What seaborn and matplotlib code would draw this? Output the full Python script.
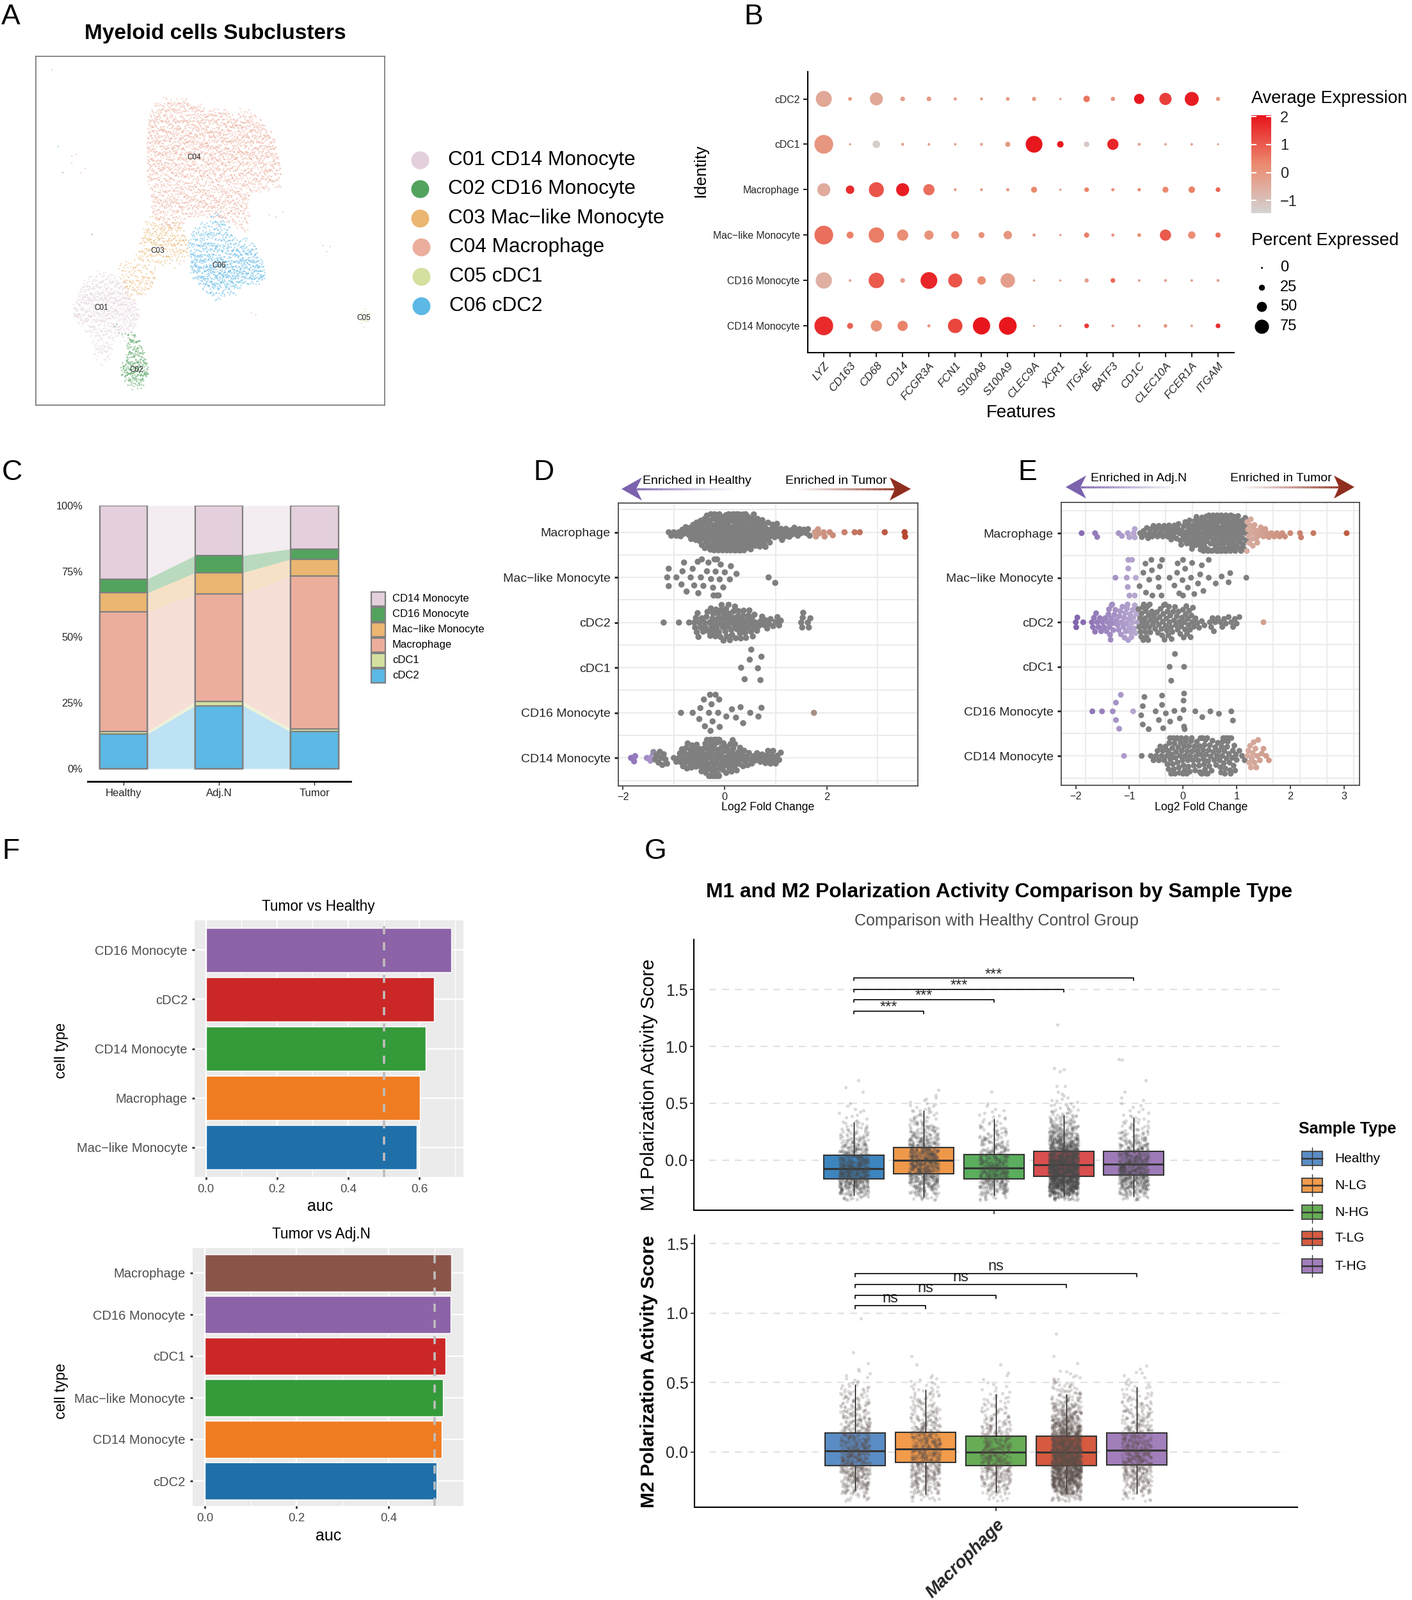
import numpy as np
import pandas as pd
import seaborn as sns
import matplotlib
matplotlib.use('Agg')
from matplotlib import pyplot as plt
from matplotlib.cm import ScalarMappable
from matplotlib.collections import LineCollection
from matplotlib.colors import LinearSegmentedColormap, Normalize, to_rgb
from matplotlib.lines import Line2D
from matplotlib.patches import Polygon, Rectangle

W, H = 2206, 2500

# ------------------------------
# A: UMAP clouds, read as rows (y, x start, x end, number of cells)
# ------------------------------
C01_SPANS = [(1020, 215, 250, 12), (1040, 195, 270, 35), (1060, 185, 280, 55), (1080, 180, 285, 65),
             (1100, 175, 290, 75), (1120, 170, 300, 85), (1140, 165, 305, 95), (1160, 165, 310, 95),
             (1180, 165, 310, 90), (1200, 175, 305, 75), (1220, 190, 300, 50), (1240, 200, 295, 35),
             (1260, 205, 285, 20), (1280, 210, 250, 20), (1300, 210, 250, 20), (1320, 215, 245, 12),
             (1340, 225, 240, 5)]
C02_SPANS = [(1220, 255, 260, 2), (1240, 265, 300, 6), (1260, 285, 305, 15), (1280, 285, 312, 20),
             (1300, 283, 318, 25), (1320, 282, 322, 30), (1340, 280, 325, 35), (1360, 272, 330, 50),
             (1380, 270, 330, 55), (1400, 278, 328, 45), (1420, 285, 320, 25), (1440, 295, 315, 6),
             (640, 140, 140, 1), (880, 205, 205, 1)]
C03_SPANS = [(820, 330, 365, 8), (840, 325, 400, 30), (860, 320, 410, 45), (880, 320, 415, 50),
             (900, 315, 415, 50), (920, 310, 420, 50), (940, 310, 420, 40), (960, 300, 410, 30),
             (980, 270, 400, 25), (1000, 265, 345, 25), (1020, 270, 345, 25), (1040, 275, 345, 30),
             (1060, 275, 340, 25), (1080, 280, 330, 18), (1100, 280, 315, 8), (600, 160, 160, 1)]
C04_SPANS = [(380, 365, 420, 25), (400, 345, 450, 60), (420, 335, 510, 100), (420, 535, 560, 10),
             (440, 332, 570, 130), (460, 332, 585, 150), (480, 330, 595, 160), (500, 330, 605, 165),
             (520, 330, 612, 170), (540, 328, 612, 170), (560, 328, 615, 170), (580, 328, 618, 170),
             (600, 328, 622, 165), (620, 328, 625, 160), (640, 330, 625, 150), (660, 330, 625, 145),
             (680, 330, 625, 130), (700, 335, 600, 110), (720, 338, 560, 105), (740, 338, 555, 110),
             (760, 338, 550, 115), (780, 340, 550, 100), (800, 340, 555, 90), (800, 600, 630, 3),
             (820, 345, 410, 25), (820, 480, 555, 25), (840, 360, 400, 12), (840, 520, 550, 8),
             (860, 540, 552, 3), (920, 720, 735, 3), (1160, 560, 570, 2), (260, 115, 115, 1),
             (640, 180, 190, 2), (580, 160, 170, 2)]
C05_SPANS = [(1160, 805, 815, 5), (1180, 798, 825, 12), (1200, 805, 820, 6)]
C06_SPANS = [(800, 480, 495, 6), (820, 470, 500, 15), (840, 445, 510, 25), (860, 430, 515, 35),
             (880, 425, 520, 45), (900, 420, 550, 60), (920, 420, 570, 75), (940, 425, 575, 90),
             (960, 425, 575, 100), (980, 425, 585, 120), (1000, 425, 590, 130), (1020, 430, 590, 125),
             (1040, 440, 585, 100), (1060, 450, 540, 60), (1080, 460, 525, 35), (1100, 470, 500, 10),
             (560, 130, 130, 1)]
A_CLUSTERS = ['C01', 'C02', 'C03', 'C04', 'C05', 'C06']
A_NAMES = ['C01 CD14 Monocyte', 'C02 CD16 Monocyte', 'C03 Mac\u2212like Monocyte',
           'C04 Macrophage', 'C05 cDC1', 'C06 cDC2']
A_COLORS = ['#E3D0DC', '#52A35E', '#EAB671', '#ECAE9C', '#D3E09F', '#5CB8E4']
A_LABEL_X = [226, 304, 351, 433, 811, 488]
A_LABEL_Y = [1143, 1375, 932, 586, 1181, 987]

# ------------------------------
# B: dot plot
# ------------------------------
B_GENES = ['LYZ', 'CD163', 'CD68', 'CD14', 'FCGR3A', 'FCN1', 'S100A8', 'S100A9',
           'CLEC9A', 'XCR1', 'ITGAE', 'BATF3', 'CD1C', 'CLEC10A', 'FCER1A', 'ITGAM']
B_IDENTITY = ['CD14 Monocyte', 'CD16 Monocyte', 'Mac\u2212like Monocyte', 'Macrophage', 'cDC1', 'cDC2']
B_PCT = [[103, 25, 57, 51, 8, 77, 94, 97, 2, 2, 17, 6, 6, 11, 4, 17],
         [88, 4, 83, 17, 91, 74, 40, 77, 2, 2, 14, 17, 4, 6, 4, 6],
         [103, 31, 83, 57, 45, 37, 25, 40, 8, 2, 20, 8, 11, 57, 34, 20],
         [68, 40, 80, 68, 57, 6, 6, 8, 25, 2, 17, 8, 8, 25, 28, 17],
         [103, 2, 34, 6, 4, 4, 6, 20, 91, 28, 22, 57, 6, 4, 4, 1],
         [86, 11, 68, 17, 17, 8, 6, 11, 14, 2, 28, 14, 51, 63, 74, 14]]
B_AVG = [[1.7, 0.9, 0.1, 0.4, -0.1, 1.3, 2.0, 2.0, -0.2, -0.2, 1.5, -0.2, -0.1, -0.1, -0.2, 1.7],
         [-0.6, -0.2, 1.0, -0.2, 1.8, 1.1, 0.2, -0.2, -0.2, -0.2, -0.2, 0.8, -0.2, -0.2, -0.2, -0.2],
         [0.7, 0.4, 0.5, 0.2, 0.1, 0.1, 0.1, 0.0, -0.1, -0.1, 0.5, 0.0, 0.2, 1.0, 0.2, 0.7],
         [-0.5, 1.7, 1.1, 1.9, 0.7, -0.1, -0.1, 0.0, 0.3, -0.1, 0.4, 0.1, 0.4, 0.3, 0.4, 0.8],
         [0.0, -0.2, -1.3, -0.2, -0.2, -0.2, -0.2, -0.1, 2.0, 2.0, -1.2, 1.8, -0.2, -0.2, -0.2, -0.2],
         [-0.4, 0.0, -0.4, -0.2, -0.1, -0.2, -0.1, -0.1, -0.1, -0.1, 0.6, 0.1, 2.0, 1.4, 1.9, -0.1]]
B_LEGEND_PCT = [0, 25, 50, 75]

# ------------------------------
# C: stacked composition, upper edge of each layer in percent
# ------------------------------
C_SAMPLES = ['Healthy', 'Adj.N', 'Tumor']
C_LAYERS = ['CD14 Monocyte', 'CD16 Monocyte', 'Mac\u2212like Monocyte', 'Macrophage', 'cDC1', 'cDC2']
C_TOPS = [[100, 100, 100],
          [72.1, 81.0, 83.5],
          [66.8, 74.5, 79.6],
          [59.7, 66.4, 73.2],
          [14.0, 25.5, 15.1],
          [13.1, 23.9, 14.0]]

# ------------------------------
# D, E: fold change swarms, single values plus (bin centre, count) for crowded parts
# ------------------------------
ROWS = ['Macrophage', 'Mac\u2212like Monocyte', 'cDC2', 'cDC1', 'CD16 Monocyte', 'CD14 Monocyte']

D_MAC_SINGLE = [1.77, 1.79, 1.83, 1.85, 1.94, 1.96, 2.06, 2.12, 2.35, 2.55, 2.65, 3.14, 3.53, 3.54]
D_MAC_BINS = [-1.05, -0.95, -0.85, -0.75, -0.65, -0.55, -0.45, -0.35, -0.25, -0.15, -0.05, 0.05, 0.15, 0.25,
              0.35, 0.45, 0.55, 0.65, 0.75, 0.85, 0.95, 1.05, 1.15, 1.25, 1.35, 1.45, 1.55, 1.65]
D_MAC_N = [2, 2, 3, 3, 5, 6, 8, 10, 11, 12, 12, 13, 13, 14, 13, 11, 10, 9, 8, 6, 5, 4, 4, 3, 3, 3, 2, 3]
D_MACLIKE = [-1.1, -1.13, -1.10, -0.95, -0.85, -0.83, -0.8, -0.75, -0.67, -0.63, -0.6, -0.52, -0.47, -0.53, -0.45,
             -0.42, -0.35, -0.32, -0.27, -0.23, -0.2, -0.18, -0.22, -0.15, -0.15, -0.12, -0.1, -0.08, -0.03, 0.0,
             0.1, 0.12, 0.23, 0.86, 0.99]
D_CDC2_SINGLE = [-1.2, -0.9, -0.7, 1.5, 1.52, 1.53, 1.54, 1.63, 1.65, 1.68]
D_CDC2_BINS = [-0.55, -0.45, -0.35, -0.25, -0.15, -0.05, 0.05, 0.15, 0.25, 0.35, 0.45, 0.55, 0.65, 0.75, 0.85,
               0.95, 1.05, 1.15]
D_CDC2_N = [6, 4, 5, 7, 7, 8, 8, 7, 7, 7, 6, 6, 3, 3, 3, 2, 3, 1]
D_CDC1 = [0.32, 0.39, 0.49, 0.52, 0.65, 0.70, 0.72]
D_CD16 = [-0.86, -0.63, -0.5, -0.48, -0.41, -0.39, -0.29, -0.28, -0.31, -0.26, -0.24, -0.18, -0.13, -0.11, -0.1,
          0.03, 0.14, 0.22, 0.31, 0.36, 0.5, 0.66, 0.72, 1.75]
D_CD14_SINGLE = [-1.84, -1.78, -1.76, -1.53, -1.46, -1.43]
D_CD14_BINS = [-1.35, -1.25, -1.15, -0.95, -0.85, -0.75, -0.65, -0.55, -0.45, -0.35, -0.25, -0.15, -0.05, 0.05,
               0.15, 0.25, 0.35, 0.45, 0.55, 0.65, 0.75, 0.85, 0.95, 1.05, 1.15]
D_CD14_N = [3, 4, 3, 2, 5, 7, 7, 6, 7, 10, 15, 16, 8, 7, 9, 6, 5, 4, 3, 3, 3, 4, 4, 3, 1]
D_LAYOUT = [4.7, 9.5, 5.4, 13, 10, 5.0]

E_MAC_SINGLE = [-1.89, -1.64, -1.6, -1.2, -1.14, -1.03, -1.0, -0.92, -0.9, 2.18, 2.2, 2.43, 3.05]
E_MAC_BINS = [-0.85, -0.75, -0.65, -0.55, -0.45, -0.35, -0.25, -0.15, -0.05, 0.05, 0.15, 0.25, 0.35, 0.45, 0.55,
              0.65, 0.75, 0.85, 0.95, 1.05, 1.15, 1.25, 1.35, 1.45, 1.55, 1.65, 1.75, 1.85, 1.95, 2.05]
E_MAC_N = [1, 3, 4, 4, 4, 4, 5, 5, 6, 7, 9, 10, 11, 12, 13, 14, 14, 13, 12, 11, 10, 8, 6, 4, 3, 2, 2, 2, 1, 1]
E_MACLIKE = [-1.26, -1.05, -1.02, -1.0, -1.03, -0.95, -1.02, -0.9, -0.88, -0.81, -0.74, -0.7, -0.69, -0.63, -0.59,
             -0.57, -0.58, -0.46, -0.43, -0.45, -0.4, -0.39, -0.25, -0.16, -0.11, -0.07, -0.1, -0.01, 0.0, 0.0,
             0.04, 0.09, 0.15, 0.17, 0.21, 0.28, 0.32, 0.35, 0.38, 0.48, 0.48, 0.61, 0.72, 0.85, 0.88, 1.18]
E_CDC2_SINGLE = [-2.0, -1.99, -1.97, -1.86, 1.5]
E_CDC2_BINS = [-1.65, -1.55, -1.45, -1.35, -1.25, -1.15, -1.05, -0.95, -0.85, -0.75, -0.65, -0.55, -0.45, -0.35,
               -0.25, -0.15, -0.05, 0.05, 0.15, 0.25, 0.35, 0.45, 0.55, 0.65, 0.75, 0.85, 0.95, 1.05]
E_CDC2_N = [5, 4, 4, 10, 5, 7, 9, 8, 6, 10, 10, 5, 6, 9, 8, 6, 6, 8, 7, 3, 2, 1, 4, 2, 3, 2, 3, 2]
E_CDC1 = [-0.25, -0.22, -0.15, 0.02]
E_CD16 = [-1.69, -1.51, -1.31, -1.25, -1.25, -1.19, -1.16, -0.93, -0.78, -0.75, -0.75, -0.72, -0.64, -0.51, -0.45,
          -0.39, -0.39, -0.37, -0.32, -0.24, -0.16, -0.06, 0.01, 0.02, 0.02, 0.01, 0.03, 0.23, 0.36, 0.51, 0.67,
          0.9, 0.93]
E_CD14_SINGLE = [-1.1, -0.77]
E_CD14_BINS = [-0.55, -0.45, -0.35, -0.25, -0.15, -0.05, 0.05, 0.15, 0.25, 0.35, 0.45, 0.55, 0.65, 0.75, 0.85,
               0.95, 1.05, 1.15, 1.25, 1.35, 1.45, 1.55, 1.65]
E_CD14_N = [2, 4, 4, 9, 10, 9, 10, 8, 7, 12, 10, 6, 6, 10, 9, 7, 2, 2, 6, 6, 3, 2, 1]
E_LAYOUT = [4.7, 10, 5.4, 15, 10, 5.6]
E_GRID_X = [-1.82, -1.32, -0.82, -0.32, 0.18, 0.68, 1.18, 1.68, 2.18, 2.68, 3.18]

# ------------------------------
# F: AUC bars
# ------------------------------
F1_CELLS = ['CD16 Monocyte', 'cDC2', 'CD14 Monocyte', 'Macrophage', 'Mac\u2212like Monocyte']
F1_AUC = [0.690, 0.642, 0.618, 0.601, 0.593]
F1_COLORS = ['#8C63A6', '#CB2727', '#359A3A', '#F07C22', '#1F6FA9']
F2_CELLS = ['Macrophage', 'CD16 Monocyte', 'cDC1', 'Mac\u2212like Monocyte', 'CD14 Monocyte', 'cDC2']
F2_AUC = [0.536, 0.535, 0.524, 0.519, 0.516, 0.505]
F2_COLORS = ['#8A5449', '#8C63A6', '#CB2727', '#359A3A', '#F07C22', '#1F6FA9']

# ------------------------------
# G: box stats (whisker low, q1, median, q3, whisker high) and score counts per bin
# ------------------------------
G_SAMPLES = ['Healthy', 'N-LG', 'N-HG', 'T-LG', 'T-HG']
M1_BOX = [[-0.308, -0.166, -0.075, 0.045, 0.338],
          [-0.330, -0.120, 0.000, 0.114, 0.440],
          [-0.313, -0.166, -0.067, 0.050, 0.364],
          [-0.323, -0.144, -0.040, 0.075, 0.397],
          [-0.320, -0.131, -0.037, 0.075, 0.377]]
M2_BOX = [[-0.276, -0.099, 0.007, 0.139, 0.488],
          [-0.305, -0.072, 0.023, 0.141, 0.452],
          [-0.290, -0.099, -0.002, 0.116, 0.420],
          [-0.298, -0.095, -0.002, 0.114, 0.417],
          [-0.300, -0.090, 0.014, 0.136, 0.467]]
M1_COLORS = ['#3D85BF', '#F0984A', '#5BAE5E', '#D94F4F', '#9E7BB8']
M2_COLORS = ['#5A8DC5', '#F29B4B', '#66AD56', '#D65A40', '#A27EBB']
SCORE_BINS = [-0.325, -0.275, -0.225, -0.175, -0.125, -0.075, -0.025, 0.025, 0.075, 0.125, 0.175, 0.225, 0.275,
              0.325, 0.375, 0.425, 0.475, 0.525, 0.575]
M1_N = [[16, 44, 68, 84, 92, 88, 76, 60, 48, 36, 26, 18, 12, 8, 4, 4, 2, 1, 0],
        [14, 32, 48, 64, 76, 84, 88, 84, 76, 60, 48, 32, 24, 18, 12, 10, 6, 4, 2],
        [12, 32, 48, 60, 64, 60, 52, 44, 36, 28, 22, 16, 12, 8, 6, 4, 2, 1, 0],
        [40, 120, 190, 225, 240, 235, 215, 180, 145, 110, 82, 58, 42, 28, 19, 12, 8, 5, 3],
        [16, 40, 64, 80, 88, 88, 76, 64, 52, 40, 30, 20, 14, 10, 6, 4, 3, 2, 1]]
M1_HIGH = [[0.7, 0.64, 0.6], [0.62], [0.6], [1.19, 0.8, 0.81, 0.78, 0.65, 0.65, 0.6], [0.89, 0.88, 0.7, 0.6]]
M2_N = [[12, 32, 48, 56, 64, 68, 68, 64, 56, 48, 40, 32, 28, 24, 20, 16, 10, 5, 3],
        [12, 28, 40, 48, 56, 60, 68, 64, 60, 48, 40, 30, 24, 20, 16, 12, 8, 5, 1],
        [8, 24, 36, 44, 52, 56, 56, 52, 44, 36, 28, 20, 16, 14, 10, 6, 4, 2, 1],
        [32, 95, 150, 185, 205, 215, 205, 190, 165, 140, 108, 84, 62, 45, 31, 21, 14, 8, 3],
        [10, 28, 40, 48, 56, 60, 60, 56, 52, 44, 36, 28, 24, 20, 16, 10, 8, 4, 2]]
M2_HIGH = [[0.96, 0.72, 0.64, 0.6], [0.69, 0.63], [0.63, 0.57], [0.85, 0.69, 0.64, 0.58], [0.62, 0.6, 0.57]]
M1_BRACKET_Y = [1.312, 1.41, 1.50, 1.60]
M2_BRACKET_Y = [1.053, 1.128, 1.206, 1.283]


sns.set_style('white')
plt.rcParams['font.family'] = ['Liberation Sans', 'DejaVu Sans']
plt.rcParams['axes.unicode_minus'] = True
fig = plt.figure(figsize=(W / 100, H / 100), dpi=100)


def add_axes_px(left, top, right, bottom):
    return fig.add_axes([left / W, 1 - bottom / H, (right - left) / W, (bottom - top) / H])


def put_text(x, y, s, **kw):
    kw.setdefault('va', 'center')
    kw.setdefault('color', 'black')
    return fig.text(x / W, 1 - y / H, s, **kw)


def put_dot(x, y, diameter, color):
    fig.add_artist(Line2D([x / W], [1 - y / H], marker='o', ms=diameter * 0.72, mfc=color, mec='none',
                          ls='none', transform=fig.transFigure))


def put_box(x0, y0, x1, y1, face, edge, lw):
    fig.add_artist(Rectangle((x0 / W, 1 - y1 / H), (x1 - x0) / W, (y1 - y0) / H, facecolor=face, edgecolor=edge,
                             linewidth=lw, transform=fig.transFigure))


def expand_bins(centers, counts, step=0.1):
    # counts, spread evenly over the width of their bin
    values = []
    for c, n in zip(centers, counts):
        values.extend(np.linspace(c - step / 2, c + step / 2, n, endpoint=False))
    return values


def expand_spans(spans):
    rows, xs = [], []
    for y, x0, x1, n in spans:
        xs.extend(np.linspace(x0, x1, n))
        rows.extend([y] * n)
    return rows, xs


def panel_a():
    ax = add_axes_px(56, 88, 601, 633)
    frames = []
    for name, spans in zip(A_CLUSTERS, [C01_SPANS, C02_SPANS, C03_SPANS, C04_SPANS, C05_SPANS, C06_SPANS]):
        rows, xs = expand_spans(spans)
        frames.append(pd.DataFrame({'umap_x': xs, 'umap_y': rows, 'cluster': name}))
    df = pd.concat(frames)
    sns.stripplot(data=df, x='umap_x', y='umap_y', hue='cluster', hue_order=A_CLUSTERS,
                  palette=dict(zip(A_CLUSTERS, A_COLORS)), orient='h', native_scale=True, jitter=0.85,
                  size=1.8, alpha=0.5, linewidth=0, legend=False, ax=ax)
    ax.set_xlim(80, 857)
    ax.set_ylim(1505, 210)
    ax.set(xlabel='', ylabel='', xticks=[], yticks=[])
    for spine in ax.spines.values():
        spine.set_color('#7F7F7F')
        spine.set_linewidth(1.3)
    for name, lx, ly in zip(A_CLUSTERS, A_LABEL_X, A_LABEL_Y):
        ax.text(lx, ly, name, ha='center', va='center', fontsize=8.5, color='#222222')

    put_text(336, 53, 'Myeloid cells Subclusters', ha='center', fontsize=24, fontweight='bold')
    key_x = [656, 656, 656, 658, 658, 658]
    text_x = [700, 700, 700, 702, 702, 702]
    key_y = [250, 295, 341, 386, 432, 478]
    for name, color, kx, tx, ky in zip(A_NAMES, A_COLORS, key_x, text_x, key_y):
        put_dot(kx, ky, 28, color)
        put_text(tx, ky, name, fontsize=22.7)


def panel_b():
    ax = add_axes_px(1262, 112, 1928, 551)
    genes, ids, pct, avg = [], [], [], []
    for i, identity in enumerate(B_IDENTITY):
        for j, gene in enumerate(B_GENES):
            genes.append(gene)
            ids.append(identity)
            pct.append(B_PCT[i][j])
            avg.append(B_AVG[i][j])
    df = pd.DataFrame({'gene': genes, 'identity': ids, 'pct': pct, 'avg': avg})
    cmap = LinearSegmentedColormap.from_list('exp', ['#D3D3D3', '#EB8A6F', '#E8141C'])
    norm = Normalize(-1.45, 2.05)
    # diameter grows linearly with percent expressed in this legend
    sizes = {p: ((3 + 0.255 * p) * 0.72) ** 2 for p in sorted(set(pct))}
    sns.scatterplot(data=df, x='gene', y='identity', hue='avg', size='pct', sizes=sizes, palette=cmap,
                    hue_norm=norm, linewidth=0, legend=False, ax=ax)
    ax.set_xlim(-0.61, 15.61)
    ax.set_ylim(-0.59, 5.6)
    ax.set(xlabel='', ylabel='')
    sns.despine(ax=ax)
    for side in ['left', 'bottom']:
        ax.spines[side].set_linewidth(1.5)
        ax.spines[side].set_color('black')
    ax.tick_params(axis='y', labelsize=11.4, length=5, width=1.5, left=True, pad=4)
    ax.tick_params(axis='x', labelsize=12.6, length=5, width=1.5, bottom=True, pad=4)
    for label in ax.get_xticklabels():
        label.set(rotation=50, ha='right', rotation_mode='anchor', fontstyle='italic')

    put_text(1595, 645, 'Features', ha='center', fontsize=20)
    put_text(1095, 267, 'Identity', ha='center', rotation=90, fontsize=18.5)
    put_text(1955, 154, 'Average Expression', fontsize=19.6)
    put_text(1955, 376, 'Percent Expressed', fontsize=19.6)

    cax = add_axes_px(1955, 180, 1986, 333)
    fig.colorbar(ScalarMappable(norm=norm, cmap=cmap), cax=cax, ticks=[-1, 0, 1, 2])
    cax.spines[:].set_visible(False)
    cax.set_axisbelow(False)
    cax.tick_params(direction='in', color='white', length=6, width=1.5, left=True, right=True, labelsize=17, pad=10)

    for value, ly in zip(B_LEGEND_PCT, [418, 449, 479, 510]):
        put_dot(1971, ly, 3 + 0.255 * value, 'black')
        put_text(2000, ly, str(value), fontsize=17)


def panel_c():
    ax = add_axes_px(137, 790, 548, 1221)
    for name, tops, color in zip(C_LAYERS, C_TOPS, A_COLORS):
        sns.barplot(x=C_SAMPLES, y=tops, color=color, saturation=1, width=0.5, edgecolor='#7F7F7F',
                    linewidth=1.6, ax=ax, zorder=3)
    # flows between neighbouring bars
    for upper, lower, color in zip(C_TOPS, C_TOPS[1:] + [[0, 0, 0]], A_COLORS):
        for k in range(2):
            ax.fill_between([k + 0.25, k + 0.75], upper[k:k + 2], lower[k:k + 2], color=color, alpha=0.4, lw=0)
    ax.set_xlim(-0.375, 2.38)
    ax.set_ylim(-4.87, 100)
    ax.set_yticks([0, 25, 50, 75, 100])
    ax.set_yticklabels(['0%', '25%', '50%', '75%', '100%'])
    ax.set(xlabel='', ylabel='')
    sns.despine(ax=ax, left=True)
    ax.spines['bottom'].set_linewidth(2)
    ax.spines['bottom'].set_color('black')
    ax.tick_params(axis='y', left=False, labelsize=11.8, pad=2)
    ax.tick_params(axis='x', bottom=True, length=4, width=1, labelsize=12, pad=4)

    key_y = [935.6, 959.6, 983.6, 1007.6, 1031.6, 1055.6]
    for name, color, ky in zip(C_LAYERS, A_COLORS, key_y):
        put_box(580, ky - 11, 602, ky + 11, color, '#7F7F7F', 1.6)
        put_text(613, ky, name, fontsize=12)


def put_arrow(tip, notch, wing, end, y, half, color):
    head = [(tip, y), (wing, y - half), (notch, y), (wing, y + half)]
    fig.add_artist(Polygon([(px / W, 1 - py / H) for px, py in head], closed=True, facecolor=color, edgecolor='none',
                           transform=fig.transFigure))
    xs = np.linspace(notch, end, 70)
    segs = [[(a / W, 1 - y / H), (b / W, 1 - y / H)] for a, b in zip(xs[:-1], xs[1:])]
    rgb = np.array(to_rgb(color))
    cols = [tuple(rgb + (1 - rgb) * t) for t in np.linspace(0, 1, 69)]
    fig.add_artist(LineCollection(segs, colors=cols, linewidths=2.4, transform=fig.transFigure))


def swarm_panel(box, xlim, ylim, ticks, grid_x, rows_values, layout, stops, lo, hi):
    ax = add_axes_px(*box)
    cmap = LinearSegmentedColormap.from_list('lfc', stops)
    # one call per row, sparse rows get a wider layout so they spread as far as in the picture
    for name, vals, size in zip(ROWS, rows_values, layout):
        df = pd.DataFrame({'row': name, 'lfc': vals})
        sns.swarmplot(data=df, x='lfc', y='row', order=ROWS, hue='lfc', palette=cmap, hue_norm=(lo, hi), orient='h',
                      size=size, linewidth=0, legend=False, ax=ax, zorder=3)
    ax.set_xticks(ticks)
    ax.set_xticks(grid_x, minor=True)
    ax.set_yticks([0.5, 1.5, 2.5, 3.5, 4.5, -0.5, 5.5], minor=True)
    ax.set_xlim(*xlim)
    ax.set_ylim(*ylim)
    ax.grid(True, which='major', axis='y', color='#EBEBEB', lw=1.5)
    ax.grid(True, which='minor', color='#EBEBEB', lw=1.5)
    ax.set_axisbelow(True)
    ax.set(xlabel='', ylabel='')
    for spine in ax.spines.values():
        spine.set_color('#4D4D4D')
        spine.set_linewidth(1.3)
    ax.tick_params(axis='y', which='major', left=True, length=4, width=2, labelsize=14, pad=5, color='#222222')
    ax.tick_params(axis='x', which='major', bottom=True, length=4, width=1.2, labelsize=11.7, pad=3)
    ax.tick_params(which='minor', length=0)
    return ax


def freeze_swarm(ax, dot):
    # the swarm is laid out first, then the dots are drawn at their own size so they overlap as in the picture
    for coll in ax.collections:
        if 'draw' in coll.__dict__:
            del coll.draw
        coll.set_sizes([dot ** 2])


def panel_d():
    rows = [D_MAC_SINGLE + expand_bins(D_MAC_BINS, D_MAC_N), D_MACLIKE,
            D_CDC2_SINGLE + expand_bins(D_CDC2_BINS, D_CDC2_N), D_CDC1, D_CD16,
            D_CD14_SINGLE + expand_bins(D_CD14_BINS, D_CD14_N)]
    lo, hi = -1.9, 3.6
    span = hi - lo
    stops = [(0, '#8C6FB8'), ((-1.41 - lo) / span, '#AC98CB'), ((-1.40 - lo) / span, '#7F7F7F'),
             ((1.74 - lo) / span, '#7F7F7F'), ((1.75 - lo) / span, '#CF9C8C'), (1, '#B5452D')]
    ax = swarm_panel((966, 786, 1434, 1228), (-2.09, 3.79), (5.62, -0.647), [-2, 0, 2], [-2, -1, 0, 1, 2, 3],
                     rows, D_LAYOUT, stops, lo, hi)
    put_text(1200, 1262, 'Log2 Fold Change', ha='center', fontsize=12.7)
    put_arrow(971, 994, 1003, 1150, 764, 18, '#7B62AD')
    put_arrow(1423, 1398, 1390, 1243, 764, 18, '#8F2E1F')
    put_text(1004, 751, 'Enriched in Healthy', fontsize=14)
    put_text(1227, 751, 'Enriched in Tumor', fontsize=14)
    return ax


def panel_e():
    rows = [E_MAC_SINGLE + expand_bins(E_MAC_BINS, E_MAC_N), E_MACLIKE,
            E_CDC2_SINGLE + expand_bins(E_CDC2_BINS, E_CDC2_N), E_CDC1, E_CD16,
            E_CD14_SINGLE + expand_bins(E_CD14_BINS, E_CD14_N)]
    lo, hi = -2.05, 3.1
    span = hi - lo
    stops = [(0, '#7F62AC'), ((-0.86 - lo) / span, '#B9AAD2'), ((-0.85 - lo) / span, '#7F7F7F'),
             ((1.19 - lo) / span, '#7F7F7F'), ((1.20 - lo) / span, '#D6AD9F'), (1, '#BC5A41')]
    ax = swarm_panel((1658, 785, 2124, 1227), (-2.27, 3.29), (5.66, -0.69), [-2, -1, 0, 1, 2, 3], E_GRID_X,
                     rows, E_LAYOUT, stops, lo, hi)
    put_text(1877, 1261, 'Log2 Fold Change', ha='center', fontsize=12.7)
    put_arrow(1665, 1688, 1697, 1846, 761, 18, '#7B62AD')
    put_arrow(2116, 2092, 2084, 1936, 761, 18, '#8F2E1F')
    put_text(1704, 748, 'Enriched in Adj.N', fontsize=14)
    put_text(1922, 748, 'Enriched in Tumor', fontsize=14)
    return ax


def auc_panel(box, cells, auc, colors, xlim, ticks, minor):
    ax = add_axes_px(*box)
    sns.barplot(x=auc, y=cells, hue=cells, order=cells, hue_order=cells, palette=colors, saturation=1, width=0.9,
                legend=False, orient='h', ax=ax, zorder=3)
    ax.set_xticks(ticks)
    ax.set_xticks(minor, minor=True)
    ax.set_xlim(*xlim)
    ax.set_ylim(len(cells) - 0.4, -0.6)
    ax.set_facecolor('#EBEBEB')
    ax.grid(True, which='major', color='white', lw=1.6)
    ax.grid(True, which='minor', axis='x', color='white', lw=0.8)
    ax.set_axisbelow(True)
    ax.axvline(0.5, color='#BEBEBE', lw=2.6, dashes=(3.5, 3.5), zorder=5)
    ax.set(xlabel='', ylabel='')
    sns.despine(ax=ax, left=True, bottom=True)
    ax.tick_params(axis='both', which='major', length=3, width=2, color='#333333', labelcolor='#4D4D4D',
                   left=True, bottom=True, pad=5)
    ax.tick_params(axis='y', labelsize=14.5)
    ax.tick_params(axis='x', labelsize=13.6)
    ax.tick_params(which='minor', length=0)


def panel_f():
    auc_panel((304, 1438, 724, 1839), F1_CELLS, F1_AUC, F1_COLORS, (-0.032, 0.724), [0, 0.2, 0.4, 0.6],
              [0.1, 0.3, 0.5, 0.7])
    auc_panel((300.5, 1950, 724, 2353), F2_CELLS, F2_AUC, F2_COLORS, (-0.027, 0.563), [0, 0.2, 0.4],
              [0.1, 0.3, 0.5])
    put_text(497, 1416, 'Tumor vs Healthy', ha='center', fontsize=16.3)
    put_text(502, 1929, 'Tumor vs Adj.N', ha='center', fontsize=16.3)
    put_text(500, 1885, 'auc', ha='center', fontsize=18)
    put_text(513, 2400, 'auc', ha='center', fontsize=18)
    put_text(96, 1641, 'cell type', ha='center', rotation=90, fontsize=17)
    put_text(96, 2173, 'cell type', ha='center', rotation=90, fontsize=17)


def score_panel(box, xlim, ylim, stats, counts, high, colors, bracket_y, mark, mark_y, point_color, grid_x):
    ax = add_axes_px(*box)
    box_names, box_values, pt_names, pt_values = [], [], [], []
    for name, five, n, extra in zip(G_SAMPLES, stats, counts, high):
        box_names.extend([name] * 5)
        box_values.extend(five)
        values = expand_bins(SCORE_BINS, n, step=0.05) + extra
        pt_names.extend([name] * len(values))
        pt_values.extend(values)
    ax.hlines([0, 0.5, 1.0, 1.5], grid_x[0], grid_x[1], color='#E3E3E3', lw=1.6, linestyles=(0, (5, 4)), zorder=0)
    sns.boxplot(x=box_names, y=box_values, hue=box_names, order=G_SAMPLES, hue_order=G_SAMPLES, palette=colors,
                saturation=1, width=0.86, whis=(0, 100), showcaps=False, fliersize=0, linecolor='#333333',
                linewidth=1.5, medianprops={'linewidth': 2.2}, whiskerprops={'linewidth': 1, 'color': 'black'},
                legend=False, ax=ax, zorder=2)
    sns.stripplot(x=pt_names, y=pt_values, order=G_SAMPLES, color=point_color, jitter=0.21, size=3.8, alpha=0.2,
                  linewidth=0, ax=ax, zorder=4)
    ax.set_xlim(*xlim)
    ax.set_ylim(*ylim)
    ax.set_yticks([0, 0.5, 1.0, 1.5])
    ax.set_yticklabels(['0.0', '0.5', '1.0', '1.5'])
    ax.set(xlabel='', ylabel='')
    sns.despine(ax=ax)
    for side in ['left', 'bottom']:
        ax.spines[side].set_color('black')
        ax.spines[side].set_linewidth(1.5)
    ax.tick_params(axis='y', left=True, length=4, width=1.2, labelsize=18, pad=3)
    for k, y in enumerate(bracket_y):
        tip = 0.022
        ax.plot([0, 0, k + 1, k + 1], [y - tip, y, y, y - tip], color='black', lw=1.2, zorder=5)
        ax.text((k + 1) / 2, y + mark_y, mark, ha='center', va='center', fontsize=17)
    return ax


def panel_g():
    top = score_panel((1084, 1468, 2020, 1891), (-2.29, 6.28), (-0.44, 1.94), M1_BOX, M1_N, M1_HIGH, M1_COLORS,
                      M1_BRACKET_Y, '***', 0.03, '#4A4A4A', (-2.07, 6.17))
    top.set_xticks([2])
    top.set_xticklabels([''])
    top.tick_params(axis='x', bottom=True, length=4, width=1.2)
    bottom = score_panel((1085, 1930, 2027, 2355), (-2.28, 6.28), (-0.396, 1.56), M2_BOX, M2_N, M2_HIGH, M2_COLORS,
                         M2_BRACKET_Y, 'ns', 0.05, '#5A4E4A', (-2.07, 6.12))
    bottom.set_xticks([2])
    bottom.set_xticklabels(['Macrophage'], rotation=45, ha='right', rotation_mode='anchor', fontsize=19.8,
                           fontweight='bold', fontstyle='italic')
    bottom.tick_params(axis='x', bottom=True, length=4, width=1.2, pad=6)

    put_text(1561, 1394, 'M1 and M2 Polarization Activity Comparison by Sample Type', ha='center', fontsize=22.9,
             fontweight='bold')
    put_text(1557, 1439, 'Comparison with Healthy Control Group', ha='center', fontsize=18.1, color='#4D4D4D')
    put_text(1014, 1695, 'M1 Polarization Activity Score', ha='center', rotation=90, fontsize=21.5)
    put_text(1014, 2143, 'M2 Polarization Activity Score', ha='center', rotation=90, fontsize=21.5, fontweight='bold')

    put_text(2029, 1764, 'Sample Type', fontsize=18, fontweight='bold')
    key_y = [1810, 1852, 1894, 1935, 1978]
    for name, color, ky in zip(G_SAMPLES, M2_COLORS, key_y):
        fig.add_artist(Line2D([2050 / W, 2050 / W], [1 - (ky - 17) / H, 1 - (ky + 17) / H], color='#333333', lw=1,
                              transform=fig.transFigure))
        put_box(2034, ky - 11, 2066, ky + 11, color, '#4D4D4D', 1.5)
        fig.add_artist(Line2D([2034 / W, 2066 / W], [1 - ky / H, 1 - ky / H], color='#333333', lw=1.8,
                              transform=fig.transFigure))
        put_text(2085, ky, name, fontsize=15)


def panel_letters():
    for s, x, y in [('A', 2, 27), ('B', 1162, 27), ('C', 3, 739), ('D', 833, 739), ('E', 1590, 739),
                    ('F', 3, 1330), ('G', 1007, 1330)]:
        put_text(x, y, s, fontsize=32)


if __name__ == '__main__':
    panel_a()
    panel_b()
    panel_c()
    swarm_d = panel_d()
    swarm_e = panel_e()
    panel_f()
    panel_g()
    panel_letters()
    fig.canvas.draw()
    freeze_swarm(swarm_d, 6.9)
    freeze_swarm(swarm_e, 6.5)
    fig.savefig('out.png', dpi=100)
